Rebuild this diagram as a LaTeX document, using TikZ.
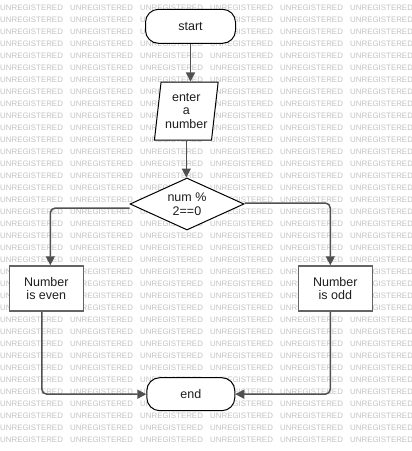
\documentclass[tikz,border=0pt]{standalone}
\usepackage{fontspec}
\setmainfont{Liberation Sans}
\usetikzlibrary{shapes.geometric,arrows.meta}
\definecolor{wmgray}{RGB}{195,195,195}
\definecolor{lngray}{RGB}{80,80,80}
\definecolor{boxgray}{RGB}{100,100,100}
\definecolor{txt}{RGB}{30,30,30}
\begin{document}
\begin{tikzpicture}[x=1pt,y=-1pt,
  wm/.style={font=\fontsize{7.9}{8}\selectfont, text=wmgray, inner sep=0pt, anchor=west},
  lbl/.style={font=\fontsize{12.5}{13.5}\selectfont, text=txt, align=center},
  term/.style={lbl, draw=black, line width=1pt, fill=white, rounded corners=13pt, minimum height=34pt},
  proc/.style={lbl, draw=boxgray, line width=1.5pt, fill=white, minimum width=74pt, minimum height=45pt, inner sep=0pt},
  inbox/.style={lbl, draw=black, line width=1pt, fill=white, trapezium, trapezium left angle=81, trapezium right angle=99, trapezium stretches=true, minimum width=64pt, minimum height=58pt, inner sep=0pt},
  decide/.style={lbl, draw=black, line width=1pt, fill=white, diamond, aspect=2.2, inner sep=0pt, minimum width=114pt, minimum height=52pt},
  conn/.style={draw=lngray, line width=1.5pt, -{Triangle[length=9pt,width=9pt]}, rounded corners=5pt}]
\useasboundingbox (0,0) rectangle (412,451);
\fill[white] (0,0) rectangle (412,451);
% watermark
\foreach \r in {0,...,36}{
  \foreach \c in {0,...,5}{
    \node[wm] (wm-\r-\c) at (70*\c, 8+12*\r) {UNREGISTERED};
  }
}
% nodes
\node[term, minimum width=90pt] (start) at (190.5,26.3) {start};
\node[inbox] (inp) at (186.3,111) {enter\\a\\number};
\node[decide] (dia) at (187,204) {num \%\\2==0};
\node[proc] (even) at (46.3,288.5) {Number\\is even};
\node[proc] (odd) at (335.3,288.5) {Number\\is odd};
\node[term, minimum width=88pt, minimum height=33pt] (end) at (190.8,394.2) {end};
% connectors
\draw[conn] (start.south) -- (start.south |- inp.north);
\draw[conn] (inp.south) -- (inp.south |- dia.north);
\draw[conn] ([yshift=-4pt]dia.west) -| ([xshift=4pt]even.north);
\draw[conn] ([yshift=1pt]dia.east) -| ([xshift=-5pt]odd.north);
\draw[conn] ([xshift=-4.5pt]even.south) |- (end.west);
\draw[conn] ([xshift=-5pt]odd.south) |- (end.east);
\end{tikzpicture}
\end{document}
